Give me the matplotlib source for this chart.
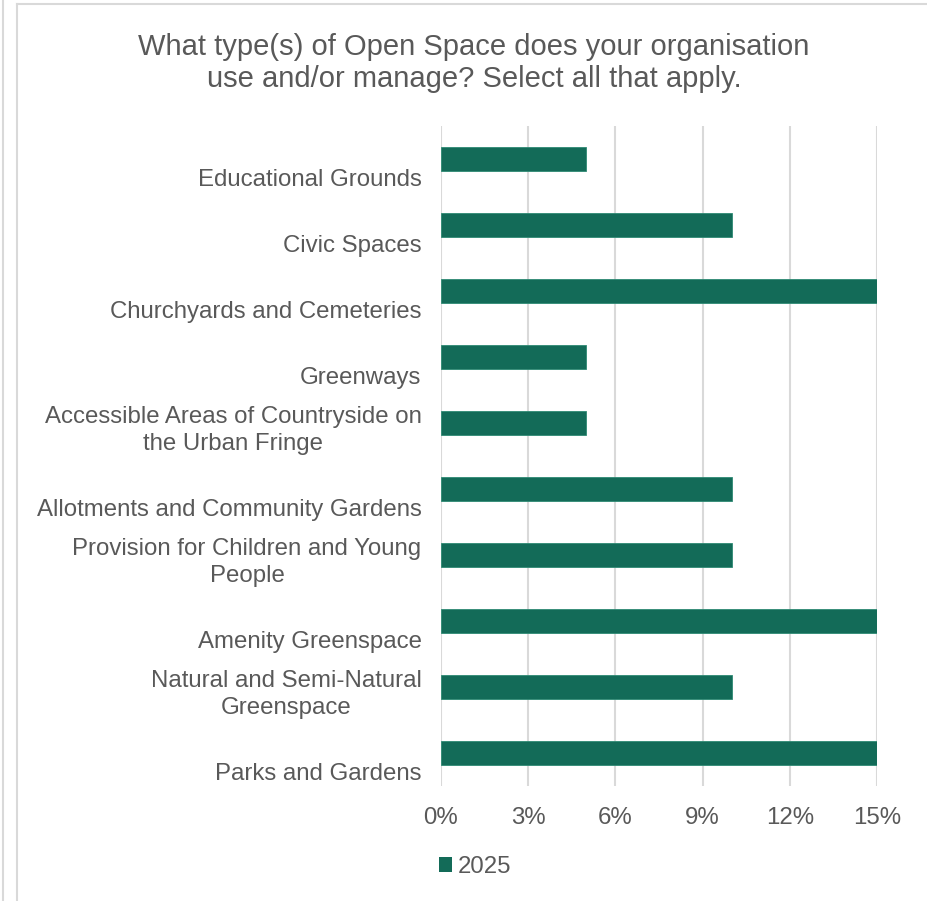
import matplotlib
matplotlib.use("Agg")
import matplotlib.pyplot as plt
from matplotlib.lines import Line2D
from matplotlib.patches import Patch
from matplotlib.ticker import FuncFormatter
import matplotlib.transforms as mtransforms

categories = [
    "Parks and Gardens",
    "Natural and Semi-Natural\nGreenspace",
    "Amenity Greenspace",
    "Provision for Children and Young\nPeople",
    "Allotments and Community Gardens",
    "Accessible Areas of Countryside on\nthe Urban Fringe",
    "Greenways",
    "Churchyards and Cemeteries",
    "Civic Spaces",
    "Educational Grounds",
]
values_2025 = [15, 10, 15, 10, 10, 5, 5, 15, 10, 5]
x_ticks = [0, 3, 6, 9, 12, 15]
series_name = "2025"
title = "What type(s) of Open Space does your organisation\nuse and/or manage? Select all that apply."

BAR = "#136B58"
TEXT = "#595959"
GRID = "#D9D9D9"
FS = 17.3

plt.rcParams["font.family"] = ["Liberation Sans", "DejaVu Sans"]

W, H = 928, 901
fig = plt.figure(figsize=(W / 100, H / 100), dpi=100, facecolor="white")

# outer frame lines (pixel coords from top-left)
def px_line(x0, y0, x1, y1, color="#D9D9D9", lw=1.5):
    fig.add_artist(Line2D([x0 / W, x1 / W], [1 - y0 / H, 1 - y1 / H],
                          transform=fig.transFigure, color=color, lw=lw))

px_line(3, 0, 3, H)
px_line(17, 4, W, 4)
px_line(17, 4, 17, H)

left, right, top, bottom = 441, 877, 126, 786
ax = fig.add_axes([left / W, 1 - bottom / H, (right - left) / W, (bottom - top) / H])

y = list(range(len(categories)))
ax.barh(y, values_2025, height=0.35, color=BAR, edgecolor="#2E8A74", linewidth=0.6, zorder=3)

ax.set_xlim(0, 15)
ax.set_ylim(-0.5, len(categories) - 0.5)
ax.set_xticks(x_ticks)
ax.xaxis.set_major_formatter(FuncFormatter(lambda v, _: f"{v:.0f}%"))
ax.grid(axis="x", color=GRID, linewidth=1.5, zorder=0)
ax.tick_params(axis="x", length=0, pad=15, labelsize=FS, labelcolor=TEXT)
ax.tick_params(axis="y", length=0, pad=14, labelsize=FS, labelcolor=TEXT)
for s in ax.spines.values():
    s.set_visible(False)

ax.set_yticks(y)
ax.set_yticklabels(categories, va="bottom", ha="right", multialignment="center")
shift = mtransforms.ScaledTranslation(0, -32 / 100, fig.dpi_scale_trans)
for lbl in ax.get_yticklabels():
    lbl.set_linespacing(1.27)
    lbl.set_transform(lbl.get_transform() + shift)

fig.text(474 / W, 1 - 63 / H, title, ha="center", va="center", fontsize=21,
         color=TEXT, linespacing=1.2)

fig.legend(handles=[Patch(facecolor=BAR, label=series_name)], loc="center",
           bbox_to_anchor=(475 / W, 1 - 867 / H), frameon=False, fontsize=FS,
           labelcolor=TEXT, handlelength=0.55, handleheight=0.6, handletextpad=0.25)

fig.savefig("out.png", dpi=100, facecolor="white")
